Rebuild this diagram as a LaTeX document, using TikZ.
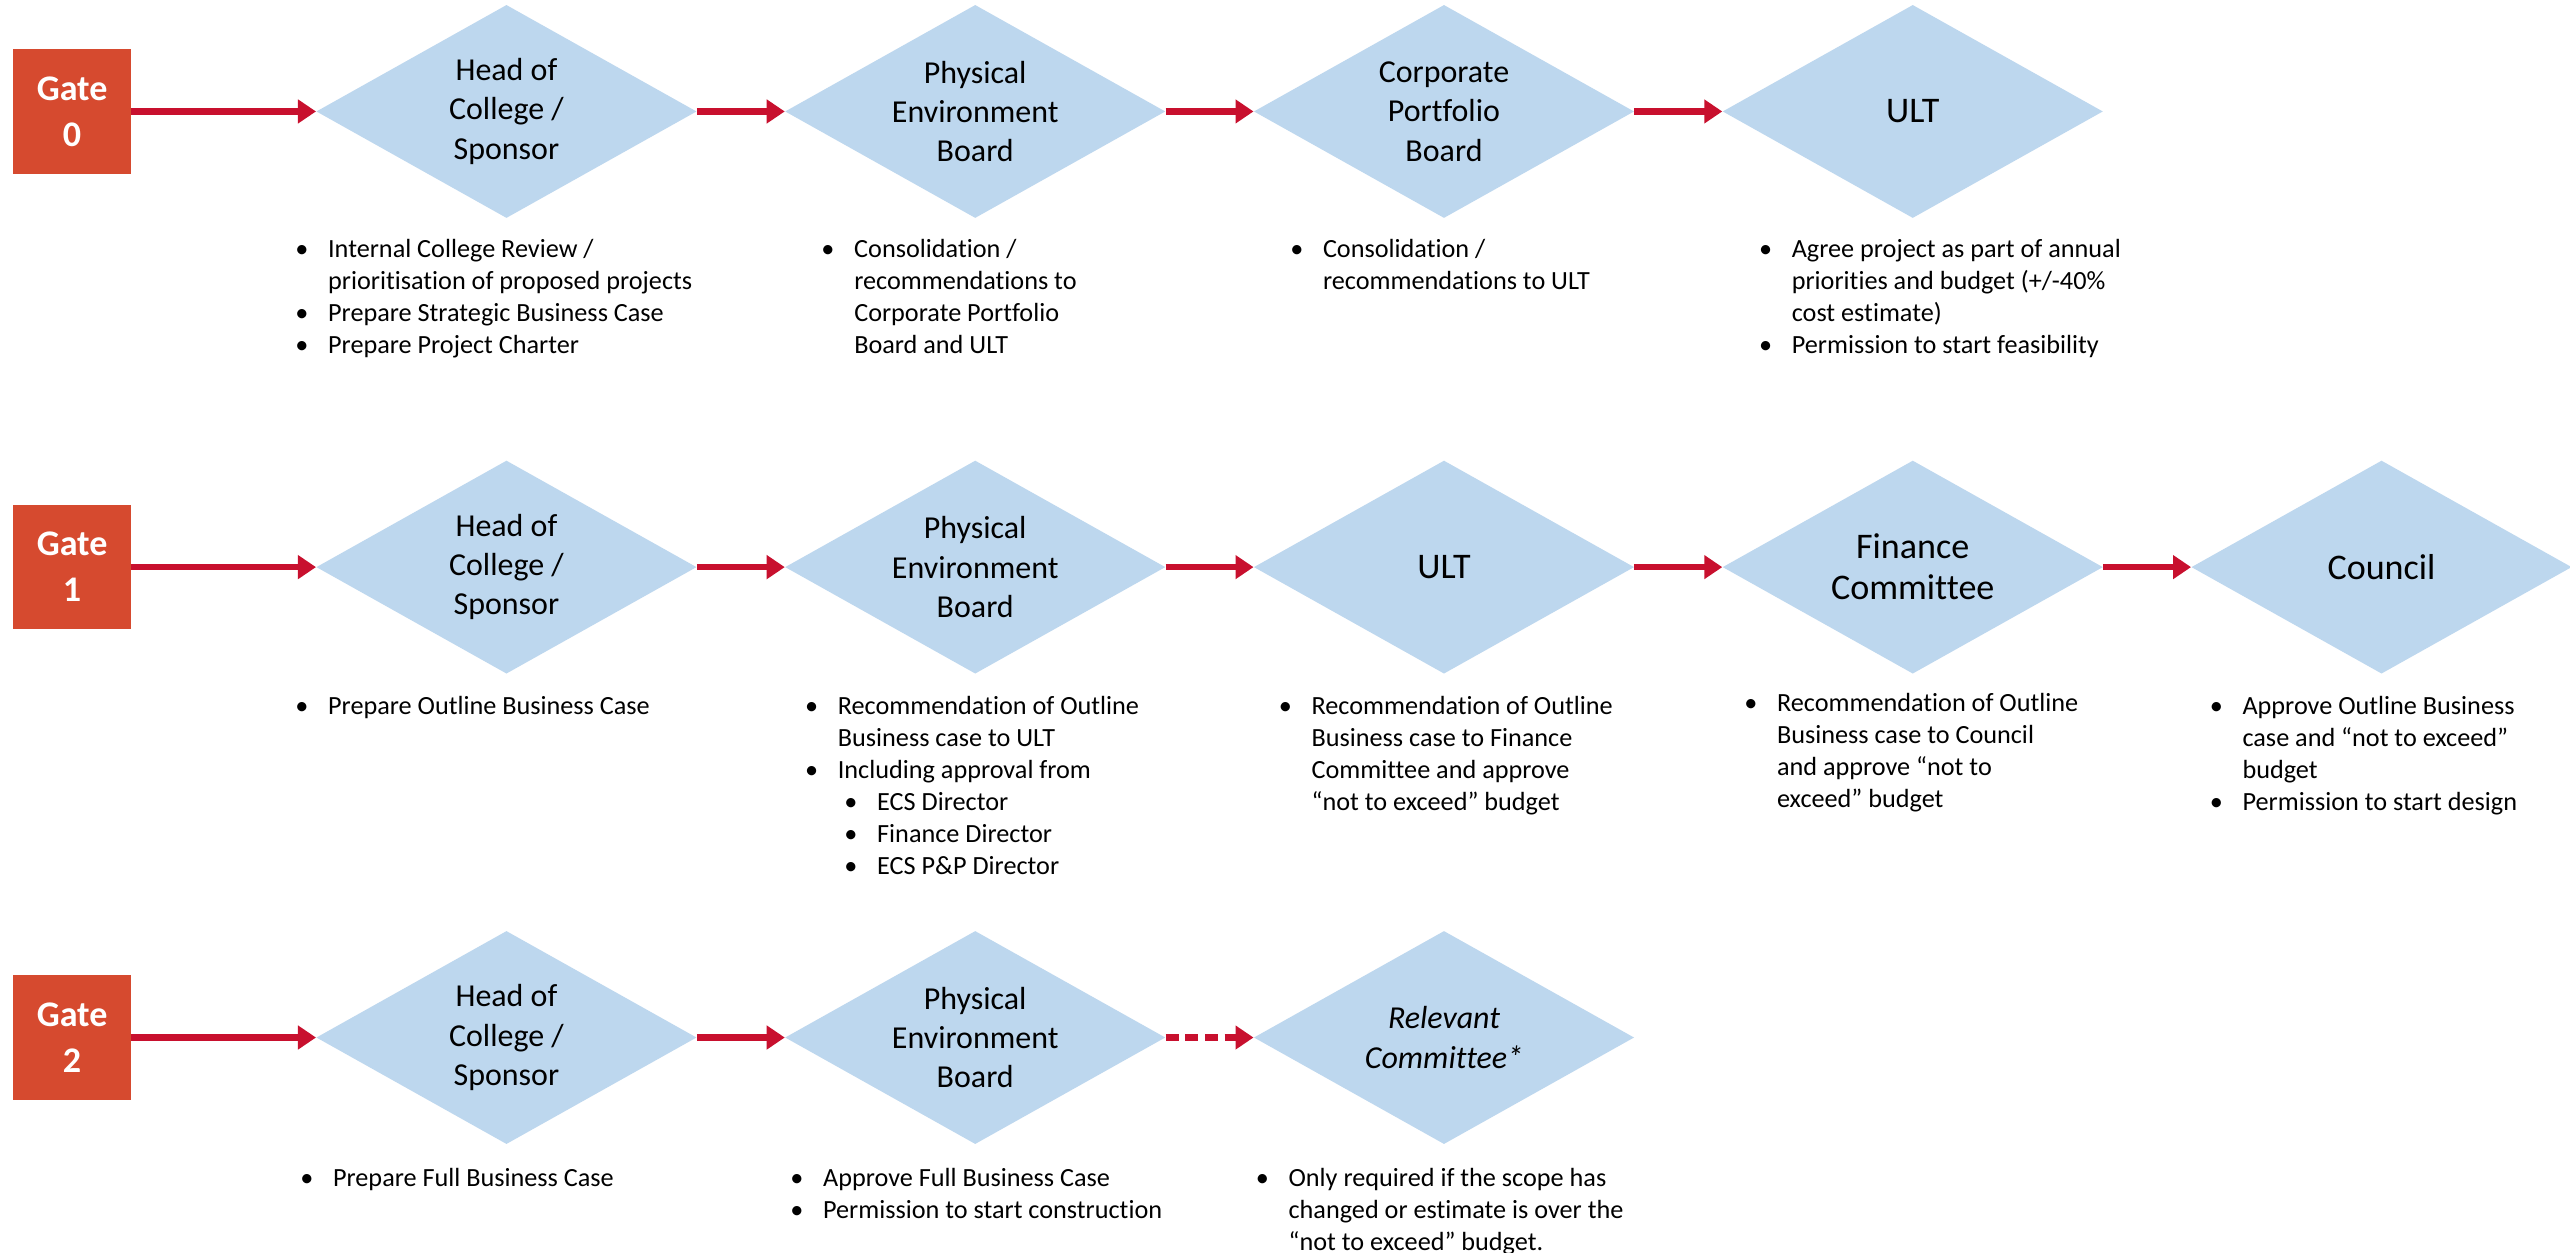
\documentclass[tikz,border=0pt]{standalone}
\usepackage{fontspec}
\setmainfont{Carlito}[Ligatures=NoCommon]
\usetikzlibrary{shapes.geometric,arrows.meta}
\definecolor{gatered}{HTML}{D64A2F}
\definecolor{flowred}{HTML}{C8102E}
\definecolor{stageblue}{HTML}{BDD7EE}
% bullet helpers for the note blocks
\newcommand{\bul}{\makebox[20pt][l]{\textbullet}}
\newcommand{\ind}{\hspace*{20pt}}
\newcommand{\subbul}{\hspace*{24pt}\makebox[20pt][l]{\textbullet}}

\begin{document}
% note blocks are placed by the baseline of their last line
\begin{tikzpicture}[x=1pt,y=-1pt,
  gatebox/.style={fill=gatered, minimum width=72pt, minimum height=76pt, inner sep=0pt,
    text=white, font=\fontsize{22}{28}\selectfont\bfseries, align=center},
  stage/.style={diamond, fill=stageblue, minimum width=232pt, minimum height=130pt,
    inner sep=0pt, aspect=1.78},
  stagetext/.style={align=center, font=\fontsize{19.5}{24}\selectfont, inner sep=0pt},
  stagebig/.style={align=center, font=\fontsize{22}{25}\selectfont, inner sep=0pt},
  notes/.style={align=left, font=\fontsize{16}{19.5}\selectfont, inner sep=0pt, anchor=base west},
  flow/.style={draw=flowred, line width=4pt, -{Triangle[length=11pt,width=14pt]}},
  optflow/.style={flow, dash pattern=on 8pt off 4pt}
]
\fill[white] (0,0) rectangle (1568,764);
\path[use as bounding box] (0,0) rectangle (1568,764);

% ---------- Gate 0 ----------
\node[gatebox] (g0) at (44,68) {Gate\\0};
\node[stage] (s01) at (309,68) {};
\node[stage] (s02) at (595,68) {};
\node[stage] (s03) at (881,68) {};
\node[stage] (s04) at (1167,68) {};
\node[stagetext] (t01) at (s01) {Head of\\College /\\Sponsor};
\node[stagetext] (t02) at (s02) {Physical\\Environment\\Board};
\node[stagetext] (t03) at (s03) {Corporate\\Portfolio\\Board};
\node[stagebig] (t04) at (s04) {ULT};
\draw[flow] (g0.east) -- (s01.west);
\draw[flow] (s01.east) -- (s02.west);
\draw[flow] (s02.east) -- (s03.west);
\draw[flow] (s03.east) -- (s04.west);

\node[notes] (n01) at (180,215.5) {\bul Internal College Review /\\\ind prioritisation of proposed projects\\\bul Prepare Strategic Business Case\\\bul Prepare Project Charter};
\node[notes] (n02) at (501,215.5) {\bul Consolidation /\\\ind recommendations to\\\ind Corporate Portfolio\\\ind Board and ULT};
\node[notes] (n03) at (787,176.5) {\bul Consolidation /\\\ind recommendations to ULT};
\node[notes] (n04) at (1073,215.5) {\bul Agree project as part of annual\\\ind priorities and budget (+/-40\%\\\ind cost estimate)\\\bul Permission to start feasibility};

% ---------- Gate 1 ----------
\node[gatebox] (g1) at (44,346) {Gate\\1};
\node[stage] (s11) at (309,346) {};
\node[stage] (s12) at (595,346) {};
\node[stage] (s13) at (881,346) {};
\node[stage] (s14) at (1167,346) {};
\node[stage] (s15) at (1453,346) {};
\node[stagetext] (t11) at (s11) {Head of\\College /\\Sponsor};
\node[stagetext] (t12) at (s12) {Physical\\Environment\\Board};
\node[stagebig] (t13) at (s13) {ULT};
\node[stagebig] (t14) at (s14) {Finance\\Committee};
\node[stagebig] (t15) at (s15) {Council};
\draw[flow] (g1.east) -- (s11.west);
\draw[flow] (s11.east) -- (s12.west);
\draw[flow] (s12.east) -- (s13.west);
\draw[flow] (s13.east) -- (s14.west);
\draw[flow] (s14.east) -- (s15.west);

\node[notes] (n11) at (180,436) {\bul Prepare Outline Business Case};
\node[notes] (n12) at (491,533.5) {\bul Recommendation of Outline\\\ind Business case to ULT\\\bul Including approval from\\\subbul ECS Director\\\subbul Finance Director\\\subbul ECS P\&P Director};
\node[notes] (n13) at (780,494.5) {\bul Recommendation of Outline\\\ind Business case to Finance\\\ind Committee and approve\\\ind “not to exceed” budget};
\node[notes] (n14) at (1064,492.5) {\bul Recommendation of Outline\\\ind Business case to Council\\\ind and approve “not to\\\ind exceed” budget};
\node[notes] (n15) at (1348,494.5) {\bul Approve Outline Business\\\ind case and “not to exceed”\\\ind budget\\\bul Permission to start design};

% ---------- Gate 2 ----------
\node[gatebox] (g2) at (44,633) {Gate\\2};
\node[stage] (s21) at (309,633) {};
\node[stage] (s22) at (595,633) {};
\node[stage] (s23) at (881,633) {};
\node[stagetext] (t21) at (s21) {Head of\\College /\\Sponsor};
\node[stagetext] (t22) at (s22) {Physical\\Environment\\Board};
\node[stagetext, font=\fontsize{19.5}{24}\selectfont\itshape] (t23) at (s23) {Relevant\\Committee*};
\draw[flow] (g2.east) -- (s21.west);
\draw[flow] (s21.east) -- (s22.west);
\draw[optflow] (s22.east) -- (s23.west);

\node[notes] (n21) at (183,724) {\bul Prepare Full Business Case};
\node[notes] (n22) at (482,743.5) {\bul Approve Full Business Case\\\bul Permission to start construction};
\node[notes] (n23) at (766,763) {\bul Only required if the scope has\\\ind changed or estimate is over the\\\ind “not to exceed” budget.};
\end{tikzpicture}
\end{document}
